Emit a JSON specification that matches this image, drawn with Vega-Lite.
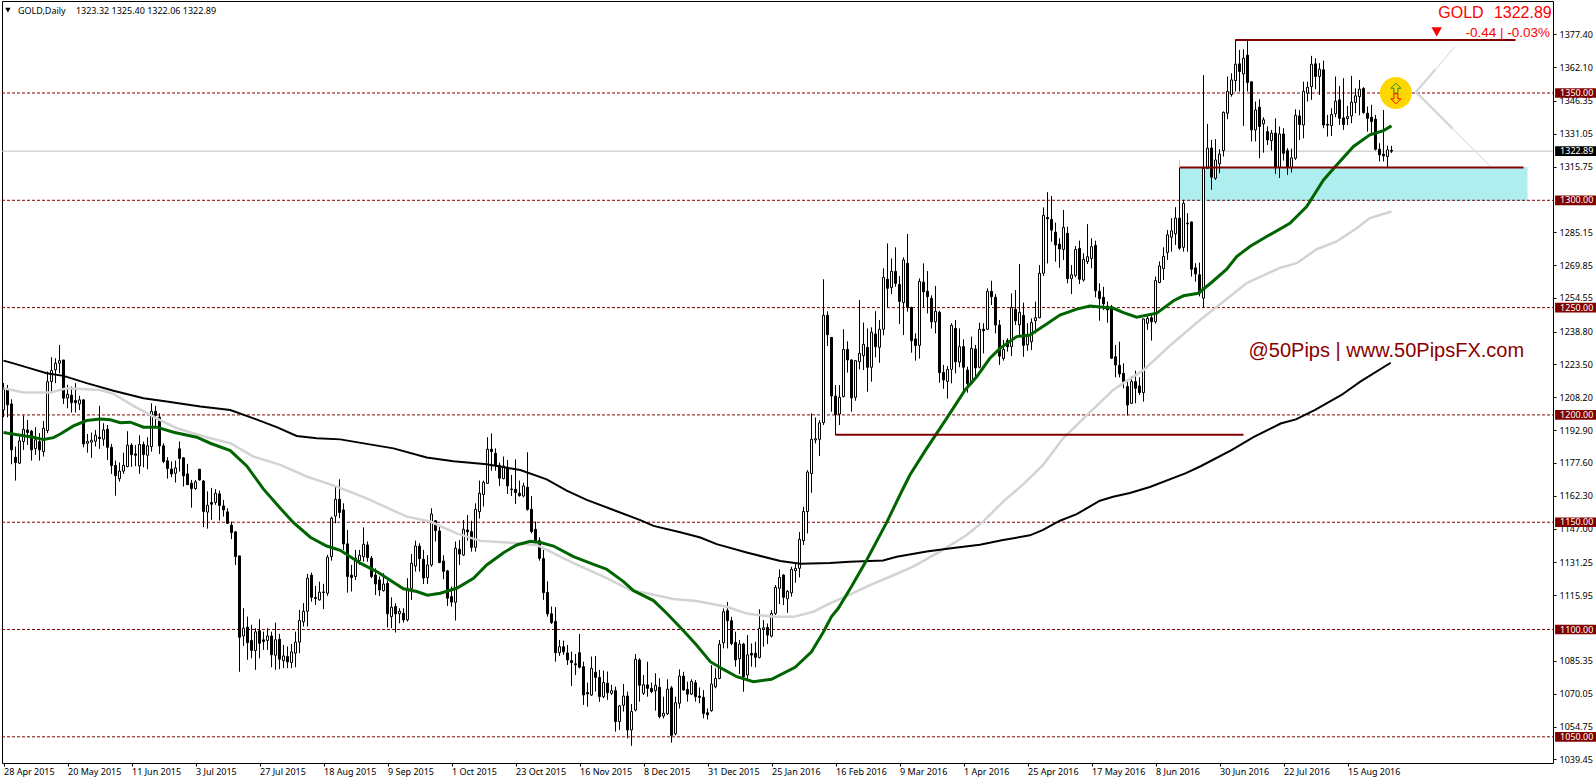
{"$schema":"https://vega.github.io/schema/vega-lite/v6.json","width":1551,"height":762,"autosize":"none","padding":{"left":2,"top":1,"right":43,"bottom":21},"background":"white",
"config":{"view":{"stroke":"black","strokeWidth":1},"axis":{"grid":false,"domain":false,"tickColor":"black","labelColor":"black","labelFont":"Noto Sans","labelFontSize":9,"tickSize":3,"title":null}},
"datasets":{
"candles":[
{"i":0,"o":1202.3,"h":1214.9,"l":1198.9,"c":1212},{"i":1,"o":1212,"h":1214,"l":1198.9,"c":1204.7},{"i":2,"o":1205.1,"h":1207.3,"l":1177,"c":1183.7},{"i":3,"o":1180.3,"h":1185.2,"l":1169.4,"c":1177.8},{"i":4,"o":1177.5,"h":1189.9,"l":1177.2,"c":1187.9},{"i":5,"o":1187.6,"h":1199.8,"l":1183.7,"c":1193.3},{"i":6,"o":1193,"h":1197.7,"l":1186,"c":1191.8},{"i":7,"o":1192.4,"h":1193,"l":1178.7,"c":1183.7},{"i":8,"o":1184.3,"h":1194.3,"l":1181.4,"c":1188.4},{"i":9,"o":1187.6,"h":1191.5,"l":1178.7,"c":1183.7},
{"i":10,"o":1182.9,"h":1197.2,"l":1180.6,"c":1193.8},{"i":11,"o":1192.7,"h":1220.2,"l":1191.5,"c":1215.5},{"i":12,"o":1215.5,"h":1226.9,"l":1210.1,"c":1220.7},{"i":13,"o":1221,"h":1226.4,"l":1214.8,"c":1224.1},{"i":14,"o":1224.1,"h":1232.6,"l":1219.4,"c":1225.3},{"i":15,"o":1225.6,"h":1225.6,"l":1205.1,"c":1207.8},{"i":16,"o":1207.8,"h":1214,"l":1203.1,"c":1209.6},{"i":17,"o":1209.2,"h":1213.2,"l":1201.1,"c":1205.7},{"i":18,"o":1206.7,"h":1214.8,"l":1201.1,"c":1205.7},{"i":19,"o":1205.1,"h":1208.9,"l":1202.3,"c":1207},
{"i":20,"o":1207,"h":1207.3,"l":1184.9,"c":1186.5},{"i":21,"o":1186.8,"h":1191.1,"l":1182.4,"c":1187.7},{"i":22,"o":1187.3,"h":1191.8,"l":1180,"c":1188.2},{"i":23,"o":1187.7,"h":1193,"l":1185.3,"c":1190.5},{"i":24,"o":1189.6,"h":1204.2,"l":1184.2,"c":1189},{"i":25,"o":1188.7,"h":1196.1,"l":1185.6,"c":1193},{"i":26,"o":1193.3,"h":1195.3,"l":1179,"c":1184.9},{"i":27,"o":1184.9,"h":1186.5,"l":1172.5,"c":1176.4},{"i":28,"o":1176.5,"h":1178.7,"l":1162.4,"c":1171.7},{"i":29,"o":1170.3,"h":1177.8,"l":1168.9,"c":1173.8},
{"i":30,"o":1173.8,"h":1182.4,"l":1172.5,"c":1176.5},{"i":31,"o":1175.9,"h":1192.4,"l":1175.6,"c":1185.9},{"i":32,"o":1185.9,"h":1186.8,"l":1175.8,"c":1181.5},{"i":33,"o":1181.8,"h":1185.9,"l":1176.2,"c":1181.2},{"i":34,"o":1176.2,"h":1190.5,"l":1172.5,"c":1186.2},{"i":35,"o":1186.2,"h":1187.6,"l":1175.6,"c":1181.5},{"i":36,"o":1181.2,"h":1189.6,"l":1174.7,"c":1185.6},{"i":37,"o":1185.2,"h":1205.4,"l":1182.9,"c":1201.7},{"i":38,"o":1201.7,"h":1204.2,"l":1194.6,"c":1199.8},{"i":39,"o":1198.9,"h":1200.8,"l":1181.8,"c":1185.6},
{"i":40,"o":1185.6,"h":1186.8,"l":1177.5,"c":1178.3},{"i":41,"o":1178.6,"h":1180.3,"l":1170.3,"c":1175},{"i":42,"o":1174.8,"h":1178.3,"l":1171,"c":1172.5},{"i":43,"o":1172.8,"h":1178.7,"l":1168.5,"c":1175.3},{"i":44,"o":1184.2,"h":1187.6,"l":1173.6,"c":1179.7},{"i":45,"o":1180,"h":1180.3,"l":1166.6,"c":1171.6},{"i":46,"o":1172.5,"h":1177.2,"l":1167.4,"c":1167.5},{"i":47,"o":1168.2,"h":1169.7,"l":1156.8,"c":1165.7},{"i":48,"o":1165.7,"h":1169.7,"l":1165.1,"c":1168.8},{"i":49,"o":1174.7,"h":1174.7,"l":1169.4,"c":1169.7},
{"i":50,"o":1169.2,"h":1169.7,"l":1147.7,"c":1155},{"i":51,"o":1154.7,"h":1164.4,"l":1147,"c":1157.9},{"i":52,"o":1159.2,"h":1166,"l":1151.1,"c":1158.4},{"i":53,"o":1159.2,"h":1165.4,"l":1158.1,"c":1163.5},{"i":54,"o":1163.2,"h":1164.7,"l":1150.8,"c":1157.8},{"i":55,"o":1157.6,"h":1160.4,"l":1152.6,"c":1155.7},{"i":56,"o":1154.8,"h":1156.5,"l":1149.2,"c":1149.5},{"i":57,"o":1148.6,"h":1150.3,"l":1142.1,"c":1145.2},{"i":58,"o":1145.5,"h":1145.9,"l":1130.1,"c":1134},{"i":59,"o":1134.3,"h":1134.3,"l":1080.3,"c":1096.4},
{"i":60,"o":1097,"h":1109.9,"l":1092.4,"c":1100.6},{"i":61,"o":1101.1,"h":1106,"l":1085.9,"c":1093.9},{"i":62,"o":1094.9,"h":1102.2,"l":1086.6,"c":1090.2},{"i":63,"o":1090.2,"h":1100.6,"l":1081.2,"c":1098.9},{"i":64,"o":1099.4,"h":1104.8,"l":1086.6,"c":1093.6},{"i":65,"o":1095.2,"h":1099,"l":1090.5,"c":1094.4},{"i":66,"o":1094.9,"h":1100.6,"l":1090.5,"c":1097},{"i":67,"o":1097,"h":1099,"l":1082.4,"c":1088.2},{"i":68,"o":1088,"h":1103.2,"l":1081.2,"c":1095.2},{"i":69,"o":1095.5,"h":1098,"l":1081.5,"c":1086.2},
{"i":70,"o":1085.5,"h":1092.8,"l":1082,"c":1087.7},{"i":71,"o":1087.4,"h":1092.1,"l":1082,"c":1084.9},{"i":72,"o":1084.6,"h":1093.3,"l":1082,"c":1089.6},{"i":73,"o":1089,"h":1099,"l":1082.4,"c":1094.1},{"i":74,"o":1094.1,"h":1109.1,"l":1089,"c":1104.2},{"i":75,"o":1103.6,"h":1112.3,"l":1101.4,"c":1108.5},{"i":76,"o":1108.5,"h":1125.9,"l":1101.4,"c":1123.9},{"i":77,"o":1125.3,"h":1126.5,"l":1113,"c":1115},{"i":78,"o":1114.9,"h":1120.3,"l":1111.5,"c":1114.4},{"i":79,"o":1113.8,"h":1122.3,"l":1113.5,"c":1117.4},
{"i":80,"o":1117.2,"h":1121.3,"l":1109.5,"c":1117.5},{"i":81,"o":1116.9,"h":1134.8,"l":1115.7,"c":1133.7},{"i":82,"o":1134,"h":1152.6,"l":1132.1,"c":1151.9},{"i":83,"o":1152.9,"h":1166.6,"l":1149.5,"c":1160.7},{"i":84,"o":1160.7,"h":1170,"l":1151.9,"c":1154.5},{"i":85,"o":1155.7,"h":1158.8,"l":1137.1,"c":1139.9},{"i":86,"o":1139.9,"h":1146.4,"l":1117.2,"c":1124.7},{"i":87,"o":1125.3,"h":1130.1,"l":1117.7,"c":1124.2},{"i":88,"o":1124.7,"h":1137.1,"l":1123.1,"c":1133.3},{"i":89,"o":1132.1,"h":1137.1,"l":1130.1,"c":1134.6},
{"i":90,"o":1134,"h":1147.6,"l":1131.6,"c":1139.7},{"i":91,"o":1139.4,"h":1141,"l":1131.6,"c":1133.5},{"i":92,"o":1133.2,"h":1134.3,"l":1123.9,"c":1124.7},{"i":93,"o":1125.4,"h":1128.5,"l":1116.1,"c":1121.2},{"i":94,"o":1123.1,"h":1124.7,"l":1115.6,"c":1118.4},{"i":95,"o":1118.1,"h":1126.2,"l":1117.7,"c":1121.2},{"i":96,"o":1121.5,"h":1122.8,"l":1101,"c":1107.3},{"i":97,"o":1106,"h":1115,"l":1100.6,"c":1110.4},{"i":98,"o":1110.7,"h":1112.2,"l":1098.6,"c":1107.3},{"i":99,"o":1107.4,"h":1109.9,"l":1102.9,"c":1108.5},
{"i":100,"o":1107.6,"h":1109.9,"l":1103.2,"c":1104.5},{"i":101,"o":1104.5,"h":1123.9,"l":1103.7,"c":1119.2},{"i":102,"o":1119.2,"h":1135.2,"l":1113.8,"c":1130.9},{"i":103,"o":1129.6,"h":1141.4,"l":1127,"c":1138.9},{"i":104,"o":1138.9,"h":1140.2,"l":1127,"c":1133},{"i":105,"o":1132.7,"h":1137.1,"l":1121.2,"c":1124},{"i":106,"o":1124.2,"h":1134.7,"l":1121.2,"c":1130.1},{"i":107,"o":1130.1,"h":1156.5,"l":1129.3,"c":1153.8},{"i":108,"o":1150.7,"h":1151,"l":1141,"c":1146.1},{"i":109,"o":1145.9,"h":1148.7,"l":1130.9,"c":1131.2},
{"i":110,"o":1131.9,"h":1134.6,"l":1123.4,"c":1127.1},{"i":111,"o":1127.3,"h":1127.8,"l":1111,"c":1114.6},{"i":112,"o":1115.3,"h":1120,"l":1110.7,"c":1112.8},{"i":113,"o":1112.7,"h":1141,"l":1104.2,"c":1137.9},{"i":114,"o":1137.4,"h":1141.7,"l":1130.1,"c":1135.2},{"i":115,"o":1134.7,"h":1151,"l":1134.3,"c":1146.7},{"i":116,"o":1146.4,"h":1153.4,"l":1141.4,"c":1145.5},{"i":117,"o":1145.6,"h":1150.7,"l":1136.3,"c":1138.3},{"i":118,"o":1138.3,"h":1158.8,"l":1136.3,"c":1156},{"i":119,"o":1154.9,"h":1169.4,"l":1151.7,"c":1163.5},
{"i":120,"o":1162.9,"h":1169.4,"l":1157.3,"c":1168.6},{"i":121,"o":1168.1,"h":1189.6,"l":1167.8,"c":1184},{"i":122,"o":1184,"h":1191.4,"l":1174,"c":1182.9},{"i":123,"o":1182.1,"h":1184.4,"l":1174,"c":1176.5},{"i":124,"o":1176.5,"h":1177.8,"l":1166.9,"c":1170.5},{"i":125,"o":1170.3,"h":1180.6,"l":1170,"c":1176.2},{"i":126,"o":1175.6,"h":1179,"l":1163.2,"c":1166.9},{"i":127,"o":1165.5,"h":1172,"l":1162.2,"c":1165.2},{"i":128,"o":1165.3,"h":1179.3,"l":1158.5,"c":1163.8},{"i":129,"o":1163.5,"h":1169.4,"l":1161.9,"c":1162.4},
{"i":130,"o":1162.2,"h":1168.4,"l":1161.6,"c":1166.9},{"i":131,"o":1166.3,"h":1182.6,"l":1155.4,"c":1156},{"i":132,"o":1156,"h":1162.2,"l":1144.8,"c":1145.6},{"i":133,"o":1146.7,"h":1150.3,"l":1140.2,"c":1141.4},{"i":134,"o":1141.4,"h":1143,"l":1132.1,"c":1133.2},{"i":135,"o":1133,"h":1137.1,"l":1113.8,"c":1117.2},{"i":136,"o":1117.3,"h":1122.5,"l":1106,"c":1107.3},{"i":137,"o":1107.3,"h":1110.7,"l":1102.6,"c":1103.2},{"i":138,"o":1103.8,"h":1110.4,"l":1085,"c":1089.2},{"i":139,"o":1089.2,"h":1095.1,"l":1087.7,"c":1092},
{"i":140,"o":1092,"h":1094.8,"l":1088.2,"c":1089.6},{"i":141,"o":1089.1,"h":1092.8,"l":1083.5,"c":1085.8},{"i":142,"o":1085.5,"h":1089.7,"l":1073.7,"c":1084.6},{"i":143,"o":1084,"h":1088.6,"l":1078.8,"c":1083.6},{"i":144,"o":1089.2,"h":1097.9,"l":1081.9,"c":1082.4},{"i":145,"o":1082.7,"h":1085,"l":1064.9,"c":1069.5},{"i":146,"o":1070.6,"h":1075.3,"l":1064.1,"c":1070},{"i":147,"o":1069.5,"h":1087.4,"l":1069,"c":1081.9},{"i":148,"o":1080.1,"h":1087.7,"l":1071.1,"c":1077.7},{"i":149,"o":1077.7,"h":1081.2,"l":1066.3,"c":1068.7},
{"i":150,"o":1068.7,"h":1080.9,"l":1068,"c":1075.3},{"i":151,"o":1075,"h":1080.4,"l":1067.2,"c":1070.6},{"i":152,"o":1070.3,"h":1074.2,"l":1069.5,"c":1071.5},{"i":153,"o":1071.5,"h":1073.4,"l":1052.4,"c":1057.1},{"i":154,"o":1057.1,"h":1064.9,"l":1053.2,"c":1064.4},{"i":155,"o":1064.7,"h":1074.6,"l":1061.8,"c":1069},{"i":156,"o":1069,"h":1071.1,"l":1049.3,"c":1053.2},{"i":157,"o":1053.2,"h":1065.3,"l":1045.8,"c":1061.8},{"i":158,"o":1062.5,"h":1088.6,"l":1061.8,"c":1086.1},{"i":159,"o":1085.8,"h":1086.6,"l":1066.4,"c":1074},
{"i":160,"o":1070.3,"h":1078.8,"l":1069.5,"c":1074.3},{"i":161,"o":1074.2,"h":1085,"l":1068.7,"c":1072.6},{"i":162,"o":1072.6,"h":1075.3,"l":1070.3,"c":1071.1},{"i":163,"o":1071.5,"h":1079.6,"l":1062.2,"c":1074},{"i":164,"o":1073.1,"h":1077.3,"l":1058.6,"c":1059.4},{"i":165,"o":1059.7,"h":1068.7,"l":1058.6,"c":1061},{"i":166,"o":1060.7,"h":1076.8,"l":1060.2,"c":1072.2},{"i":167,"o":1072.8,"h":1073.7,"l":1047.3,"c":1050.7},{"i":168,"o":1051.4,"h":1068.7,"l":1050.7,"c":1065.9},{"i":169,"o":1065.6,"h":1081.4,"l":1063.2,"c":1078.3},
{"i":170,"o":1078.3,"h":1080.3,"l":1071.5,"c":1071.8},{"i":171,"o":1072.1,"h":1075.7,"l":1066.4,"c":1069.9},{"i":172,"o":1069.9,"h":1076.8,"l":1069.5,"c":1075.8},{"i":173,"o":1075.2,"h":1076.4,"l":1066.4,"c":1068.7},{"i":174,"o":1069,"h":1073,"l":1065.6,"c":1068.4},{"i":175,"o":1068.4,"h":1071.8,"l":1058.6,"c":1060.9},{"i":176,"o":1061.2,"h":1063.2,"l":1058.1,"c":1060.3},{"i":177,"o":1062.2,"h":1083.4,"l":1061.7,"c":1074.6},{"i":178,"o":1073.3,"h":1081.9,"l":1072.6,"c":1077.2},{"i":179,"o":1077.2,"h":1095.1,"l":1076.8,"c":1093.1},
{"i":180,"o":1093.8,"h":1109.8,"l":1091.2,"c":1108.3},{"i":181,"o":1108.8,"h":1112.8,"l":1091.2,"c":1104.1},{"i":182,"o":1104.1,"h":1105.9,"l":1092.7,"c":1093.5},{"i":183,"o":1094,"h":1099,"l":1082.7,"c":1085.8},{"i":184,"o":1086.4,"h":1095.1,"l":1079.2,"c":1093.2},{"i":185,"o":1093.2,"h":1093.8,"l":1071,"c":1078},{"i":186,"o":1078.8,"h":1097.4,"l":1076.8,"c":1088.2},{"i":187,"o":1088.9,"h":1093.5,"l":1082.7,"c":1088.1},{"i":188,"o":1088.9,"h":1094.3,"l":1082.4,"c":1087},{"i":189,"o":1087,"h":1109.4,"l":1086.5,"c":1100.5},
{"i":190,"o":1100,"h":1104.4,"l":1092,"c":1100.8},{"i":191,"o":1101,"h":1102.8,"l":1093.2,"c":1097.4},{"i":192,"o":1096.9,"h":1109,"l":1096.3,"c":1107.5},{"i":193,"o":1107.5,"h":1120.7,"l":1106.7,"c":1119.6},{"i":194,"o":1119.2,"h":1128,"l":1111.9,"c":1124.3},{"i":195,"o":1125.4,"h":1125.8,"l":1111.4,"c":1115},{"i":196,"o":1114.3,"h":1118.4,"l":1107.8,"c":1117.8},{"i":197,"o":1117.1,"h":1129.2,"l":1115.3,"c":1128},{"i":198,"o":1127.4,"h":1130.8,"l":1121.8,"c":1128.5},{"i":199,"o":1128.5,"h":1145.4,"l":1124.3,"c":1142},
{"i":200,"o":1141.4,"h":1157.2,"l":1139.4,"c":1155},{"i":201,"o":1155,"h":1174.3,"l":1144.8,"c":1173.4},{"i":202,"o":1172.7,"h":1200.7,"l":1163.7,"c":1188.6},{"i":203,"o":1188.3,"h":1198.8,"l":1186.7,"c":1188.9},{"i":204,"o":1188.6,"h":1197.6,"l":1180.8,"c":1196.3},{"i":205,"o":1196.4,"h":1263.2,"l":1195.3,"c":1246.4},{"i":206,"o":1246.4,"h":1248.3,"l":1232.1,"c":1237.4},{"i":207,"o":1236.1,"h":1236.1,"l":1201.5,"c":1208.8},{"i":208,"o":1208.8,"h":1213.9,"l":1190.6,"c":1200.1},{"i":209,"o":1200.4,"h":1213.9,"l":1195.3,"c":1208.2},
{"i":210,"o":1208.5,"h":1239.9,"l":1208.2,"c":1230.5},{"i":211,"o":1230.5,"h":1234.3,"l":1219.7,"c":1225.6},{"i":212,"o":1225.6,"h":1225.9,"l":1201.5,"c":1207.9},{"i":213,"o":1208.2,"h":1225.6,"l":1206.6,"c":1225.3},{"i":214,"o":1224.8,"h":1253.5,"l":1221.2,"c":1228.7},{"i":215,"o":1227.6,"h":1243,"l":1220.9,"c":1232.9},{"i":216,"o":1231.5,"h":1240.3,"l":1210.8,"c":1222.2},{"i":217,"o":1222.2,"h":1240.8,"l":1215.5,"c":1238.5},{"i":218,"o":1237.7,"h":1248.3,"l":1226.8,"c":1231.8},{"i":219,"o":1231.5,"h":1244.2,"l":1224.3,"c":1239.9},
{"i":220,"o":1239.9,"h":1268.3,"l":1237.1,"c":1264.1},{"i":221,"o":1263.2,"h":1279.9,"l":1250.1,"c":1259},{"i":222,"o":1259.4,"h":1272.9,"l":1256.3,"c":1266.9},{"i":223,"o":1266.9,"h":1278.1,"l":1259.7,"c":1261.3},{"i":224,"o":1260.8,"h":1264.7,"l":1242.4,"c":1252.9},{"i":225,"o":1252.3,"h":1273.4,"l":1237.2,"c":1272.2},{"i":226,"o":1270.6,"h":1284.3,"l":1248.1,"c":1250.1},{"i":227,"o":1250.1,"h":1250.4,"l":1229,"c":1234.6},{"i":228,"o":1235.4,"h":1238,"l":1225.3,"c":1232.3},{"i":229,"o":1232.4,"h":1263.6,"l":1226.2,"c":1262.2},
{"i":230,"o":1261.9,"h":1270.6,"l":1250.1,"c":1257.4},{"i":231,"o":1257.6,"h":1267,"l":1247.3,"c":1255.1},{"i":232,"o":1254.3,"h":1255.7,"l":1240.2,"c":1243.4},{"i":233,"o":1243.4,"h":1260.1,"l":1238,"c":1248.3},{"i":234,"o":1247.8,"h":1248.6,"l":1215,"c":1219.7},{"i":235,"o":1219.8,"h":1223.3,"l":1212.2,"c":1216.3},{"i":236,"o":1215.6,"h":1222.8,"l":1207.6,"c":1221.2},{"i":237,"o":1221.2,"h":1242.7,"l":1214.7,"c":1241.7},{"i":238,"o":1240.3,"h":1244.2,"l":1219.4,"c":1224.8},{"i":239,"o":1224.6,"h":1240.3,"l":1222.2,"c":1231.8},
{"i":240,"o":1231.8,"h":1235.2,"l":1210.8,"c":1222.2},{"i":241,"o":1220.9,"h":1222.5,"l":1210.4,"c":1214.7},{"i":242,"o":1214.7,"h":1236.5,"l":1213.9,"c":1231},{"i":243,"o":1230.7,"h":1232.6,"l":1217.5,"c":1221.9},{"i":244,"o":1222.2,"h":1243,"l":1221.7,"c":1239.9},{"i":245,"o":1239.9,"h":1242.7,"l":1228.7,"c":1239.2},{"i":246,"o":1239.9,"h":1259,"l":1239.6,"c":1257.6},{"i":247,"o":1257.6,"h":1262.5,"l":1251.2,"c":1255.1},{"i":248,"o":1254.8,"h":1256.3,"l":1238,"c":1241.9},{"i":249,"o":1241.9,"h":1244.2,"l":1223.3,"c":1227.4},
{"i":250,"o":1226.3,"h":1234.9,"l":1225.3,"c":1230.5},{"i":251,"o":1234.6,"h":1235.7,"l":1229.5,"c":1231.8},{"i":252,"o":1231.8,"h":1256.6,"l":1227.4,"c":1250.1},{"i":253,"o":1249.2,"h":1258.2,"l":1241.9,"c":1243.9},{"i":254,"o":1242,"h":1270.3,"l":1237.2,"c":1247.8},{"i":255,"o":1246.4,"h":1252.3,"l":1227.1,"c":1232.4},{"i":256,"o":1232.7,"h":1242.7,"l":1229.9,"c":1236.8},{"i":257,"o":1234.1,"h":1245,"l":1230.2,"c":1243},{"i":258,"o":1243.9,"h":1252.8,"l":1238,"c":1245.3},{"i":259,"o":1245.3,"h":1269.8,"l":1245,"c":1266},
{"i":260,"o":1266,"h":1296.7,"l":1264.7,"c":1293},{"i":261,"o":1292,"h":1303.8,"l":1270.6,"c":1291.4},{"i":262,"o":1291.1,"h":1302,"l":1280.7,"c":1286.1},{"i":263,"o":1285.2,"h":1289.6,"l":1271.4,"c":1279.2},{"i":264,"o":1279.6,"h":1282.3,"l":1268.6,"c":1277.3},{"i":265,"o":1277.1,"h":1295.5,"l":1272.2,"c":1287.4},{"i":266,"o":1284.6,"h":1287.7,"l":1261.3,"c":1263.5},{"i":267,"o":1263.5,"h":1269.8,"l":1256.3,"c":1265.3},{"i":268,"o":1265,"h":1278.7,"l":1264.1,"c":1277.1},{"i":269,"o":1277.6,"h":1281.2,"l":1261,"c":1263.2},
{"i":270,"o":1262.9,"h":1275.3,"l":1262.1,"c":1272.5},{"i":271,"o":1271.4,"h":1288.9,"l":1270.3,"c":1273.7},{"i":272,"o":1272.9,"h":1282.3,"l":1268.3,"c":1278.4},{"i":273,"o":1279,"h":1281.2,"l":1254.8,"c":1257.9},{"i":274,"o":1257.6,"h":1261.3,"l":1243.9,"c":1254.2},{"i":275,"o":1254.8,"h":1259.7,"l":1248.9,"c":1251.7},{"i":276,"o":1250.7,"h":1252.8,"l":1243,"c":1248.9},{"i":277,"o":1250.4,"h":1251.2,"l":1226.1,"c":1226.4},{"i":278,"o":1227.1,"h":1232.6,"l":1217.5,"c":1223.3},{"i":279,"o":1223.1,"h":1234.1,"l":1217.5,"c":1219.1},
{"i":280,"o":1219.4,"h":1224,"l":1212.4,"c":1215.5},{"i":281,"o":1213.2,"h":1216.3,"l":1199.8,"c":1204.6},{"i":282,"o":1205.4,"h":1218.1,"l":1205.1,"c":1215.5},{"i":283,"o":1215.5,"h":1220.6,"l":1205.4,"c":1212.4},{"i":284,"o":1213.5,"h":1217.5,"l":1209.3,"c":1210.4},{"i":285,"o":1210.4,"h":1245,"l":1206.2,"c":1244.7},{"i":286,"o":1242.7,"h":1246.1,"l":1239.6,"c":1245},{"i":287,"o":1245.3,"h":1247.3,"l":1234.6,"c":1243.4},{"i":288,"o":1243.4,"h":1264.5,"l":1242.6,"c":1262.6},{"i":289,"o":1261.7,"h":1271.5,"l":1261.4,"c":1269.4},
{"i":290,"o":1268.2,"h":1278.1,"l":1262.9,"c":1273.8},{"i":291,"o":1275.7,"h":1286.2,"l":1272.2,"c":1283.9},{"i":292,"o":1282.8,"h":1291.7,"l":1276.1,"c":1285.8},{"i":293,"o":1284.4,"h":1296.8,"l":1279.2,"c":1291.7},{"i":294,"o":1291.7,"h":1315.3,"l":1276.9,"c":1277.7},{"i":295,"o":1278.1,"h":1300.2,"l":1276.1,"c":1298.6},{"i":296,"o":1289.3,"h":1294,"l":1276.1,"c":1289},{"i":297,"o":1289.9,"h":1290.1,"l":1264.5,"c":1267.9},{"i":298,"o":1268.5,"h":1270.7,"l":1262.1,"c":1265.7},{"i":299,"o":1265.3,"h":1271,"l":1255.2,"c":1256.7},
{"i":300,"o":1254.4,"h":1358.3,"l":1250.2,"c":1314.9},{"i":301,"o":1314.9,"h":1335.6,"l":1314.8,"c":1324.3},{"i":302,"o":1324.4,"h":1328.1,"l":1304.9,"c":1310.8},{"i":303,"o":1310.3,"h":1328.5,"l":1309.5,"c":1318.8},{"i":304,"o":1317,"h":1323.8,"l":1312.6,"c":1321.5},{"i":305,"o":1323.2,"h":1341.4,"l":1320.4,"c":1341},{"i":306,"o":1340.6,"h":1357.7,"l":1337.8,"c":1350.8},{"i":307,"o":1349.3,"h":1359.2,"l":1348.3,"c":1356.1},{"i":308,"o":1355.8,"h":1375,"l":1350.7,"c":1363.4},{"i":309,"o":1363.6,"h":1370.1,"l":1350.7,"c":1360},
{"i":310,"o":1358.9,"h":1370.4,"l":1334.7,"c":1366.2},{"i":311,"o":1367.6,"h":1374.7,"l":1350.7,"c":1354.9},{"i":312,"o":1355.2,"h":1355.3,"l":1327.4,"c":1332.8},{"i":313,"o":1332.8,"h":1346,"l":1327.4,"c":1342.1},{"i":314,"o":1343.4,"h":1347.1,"l":1319.6,"c":1334.4},{"i":315,"o":1335.6,"h":1338.7,"l":1322.2,"c":1337.5},{"i":316,"o":1332,"h":1334.4,"l":1325.8,"c":1328.1},{"i":317,"o":1327.8,"h":1332.8,"l":1323.2,"c":1331.3},{"i":318,"o":1331.3,"h":1338.2,"l":1312.3,"c":1315.4},{"i":319,"o":1315.4,"h":1334.4,"l":1310.4,"c":1330.9},
{"i":320,"o":1330.9,"h":1333.6,"l":1318.5,"c":1321.9},{"i":321,"o":1323.2,"h":1324.3,"l":1311.8,"c":1315.4},{"i":322,"o":1315.4,"h":1324.1,"l":1312.9,"c":1319.8},{"i":323,"o":1319.6,"h":1342.4,"l":1318.8,"c":1339.6},{"i":324,"o":1339.3,"h":1342.1,"l":1328.1,"c":1335.3},{"i":325,"o":1335.1,"h":1355.3,"l":1328.9,"c":1350.8},{"i":326,"o":1349.9,"h":1355.3,"l":1346,"c":1352.7},{"i":327,"o":1353,"h":1367.3,"l":1346.8,"c":1363.4},{"i":328,"o":1363.6,"h":1366.2,"l":1351.8,"c":1357.7},{"i":329,"o":1357.7,"h":1363.9,"l":1349.1,"c":1361.1},
{"i":330,"o":1360.8,"h":1365.1,"l":1333.6,"c":1335.1},{"i":331,"o":1335.4,"h":1339.8,"l":1329.7,"c":1335},{"i":332,"o":1334.8,"h":1342.9,"l":1330,"c":1340},{"i":333,"o":1340.3,"h":1357.7,"l":1338.7,"c":1346.2},{"i":334,"o":1346.8,"h":1353.3,"l":1335.1,"c":1338.2},{"i":335,"o":1338.4,"h":1356.9,"l":1332.8,"c":1335.3},{"i":336,"o":1338.1,"h":1344,"l":1335.1,"c":1339},{"i":337,"o":1339.3,"h":1358,"l":1335.9,"c":1345.7},{"i":338,"o":1345.6,"h":1352.2,"l":1340.6,"c":1348.7},{"i":339,"o":1348.3,"h":1356.1,"l":1339.6,"c":1351.8},
{"i":340,"o":1352.1,"h":1352.7,"l":1340.3,"c":1340.9},{"i":341,"o":1340.6,"h":1343.7,"l":1332,"c":1338.2},{"i":342,"o":1338.7,"h":1344.5,"l":1331.3,"c":1336.7},{"i":343,"o":1337.8,"h":1339.8,"l":1323.2,"c":1323.8},{"i":344,"o":1323.8,"h":1326.6,"l":1318.1,"c":1321.2},{"i":345,"o":1321.5,"h":1342.1,"l":1318.1,"c":1320.7},{"i":346,"o":1320.4,"h":1325.4,"l":1315.4,"c":1323.5},{"i":347,"o":1323.32,"h":1325.4,"l":1322.06,"c":1322.89}
],
"green":[{"i":0,"p":1191.8},{"i":4.2,"p":1190.5},{"i":7.5,"p":1189.6},{"i":10,"p":1188.5},{"i":12.5,"p":1189.4},{"i":14.2,"p":1191.1},{"i":17.5,"p":1194.9},{"i":20.8,"p":1197.4},{"i":24.2,"p":1198.1},{"i":26.7,"p":1197.7},{"i":29.2,"p":1196.4},{"i":31.7,"p":1196.6},{"i":35,"p":1194.3},{"i":38.3,"p":1194.3},{"i":42.5,"p":1191.9},{"i":48.3,"p":1189.6},{"i":51.7,"p":1186.8},{"i":56.7,"p":1183.4},{"i":60.8,"p":1176.2},{"i":65,"p":1165.4},{"i":69.2,"p":1156.5},{"i":72.5,"p":1149.8},{"i":76.7,"p":1143},{"i":80.8,"p":1138.9},{"i":84.2,"p":1136.9},{"i":89.2,"p":1130.9},{"i":93.3,"p":1127},{"i":100,"p":1119},{"i":103.3,"p":1117.7},{"i":106,"p":1116},{"i":109.2,"p":1116.9},{"i":113.3,"p":1119.2},{"i":117.5,"p":1123.9},{"i":120.8,"p":1130.1},{"i":125,"p":1135.8},{"i":128.3,"p":1139.4},{"i":131.7,"p":1141.1},{"i":134.2,"p":1140.5},{"i":137.5,"p":1138.9},{"i":142.5,"p":1134},{"i":147.5,"p":1130.4},{"i":150.8,"p":1128.1},{"i":155,"p":1122.3},{"i":157.5,"p":1118.1},{"i":162.5,"p":1113.5},{"i":165.8,"p":1107.6},{"i":170,"p":1099.4},{"i":173.3,"p":1092.7},{"i":176.7,"p":1085},{"i":180,"p":1081.4},{"i":183.3,"p":1078},{"i":187.5,"p":1075.7},{"i":192,"p":1076.8},{"i":197.9,"p":1082.4},{"i":202,"p":1089.6},{"i":205,"p":1099},{"i":207,"p":1106},{"i":208.7,"p":1109.9},{"i":212,"p":1120},{"i":215.8,"p":1132.4},{"i":220.8,"p":1149.9},{"i":224.5,"p":1164.2},{"i":226.6,"p":1172},{"i":230.8,"p":1184.4},{"i":233.3,"p":1191.4},{"i":236.6,"p":1200.7},{"i":240.4,"p":1211.6},{"i":243.3,"p":1217.8},{"i":246.6,"p":1226.4},{"i":249.1,"p":1231},{"i":253.3,"p":1236.5},{"i":256.6,"p":1237.2},{"i":260.8,"p":1242.4},{"i":264.1,"p":1246.5},{"i":268.3,"p":1249.3},{"i":271.6,"p":1250.7},{"i":277.5,"p":1249.7},{"i":280,"p":1247.7},{"i":283.3,"p":1245.5},{"i":288.3,"p":1247.4},{"i":292.6,"p":1253.3},{"i":295,"p":1255.5},{"i":298.7,"p":1256.7},{"i":302,"p":1261.7},{"i":305.8,"p":1267.9},{"i":308.3,"p":1273.8},{"i":311.6,"p":1278.5},{"i":315.8,"p":1283.1},{"i":321.6,"p":1289.3},{"i":325.8,"p":1297.1},{"i":330,"p":1309.5},{"i":333.3,"p":1316.5},{"i":337.5,"p":1325.1},{"i":341.6,"p":1330.5},{"i":345,"p":1332.5},{"i":347,"p":1334.7}],
"gray":[{"i":0,"p":1212.4},{"i":5,"p":1210.4},{"i":11.7,"p":1210.4},{"i":15.8,"p":1212.4},{"i":24.2,"p":1211.6},{"i":27.5,"p":1209.8},{"i":32.5,"p":1204.2},{"i":38.3,"p":1198.4},{"i":43.3,"p":1193.8},{"i":50.8,"p":1189.6},{"i":56.7,"p":1186.8},{"i":62.5,"p":1180.6},{"i":69.2,"p":1176.7},{"i":75.8,"p":1171.3},{"i":83.3,"p":1166.6},{"i":90.8,"p":1161.1},{"i":100.8,"p":1152.6},{"i":106.7,"p":1150.3},{"i":113.3,"p":1144.8},{"i":119.2,"p":1141.3},{"i":125.8,"p":1140.6},{"i":133.3,"p":1139.4},{"i":142.5,"p":1130.9},{"i":150.8,"p":1123.9},{"i":156.7,"p":1118.4},{"i":160.8,"p":1116.9},{"i":167.5,"p":1114.2},{"i":173.3,"p":1113.3},{"i":180.8,"p":1110.6},{"i":185.8,"p":1107.5},{"i":192.5,"p":1105.9},{"i":197.5,"p":1105.9},{"i":202.5,"p":1108.3},{"i":206.6,"p":1112.2},{"i":210.8,"p":1115.6},{"i":216.6,"p":1120.7},{"i":221.6,"p":1124.6},{"i":227.4,"p":1129.3},{"i":234.1,"p":1136.3},{"i":240.8,"p":1144},{"i":244.9,"p":1150.3},{"i":249.9,"p":1159.6},{"i":254.9,"p":1167.6},{"i":259.9,"p":1176.7},{"i":264.9,"p":1189.1},{"i":270.8,"p":1199.8},{"i":277.4,"p":1211.6},{"i":285.2,"p":1221.2},{"i":291.8,"p":1232.6},{"i":299.2,"p":1244.3},{"i":304,"p":1251.3},{"i":310.8,"p":1261.4},{"i":314,"p":1264.2},{"i":319.1,"p":1268.5},{"i":323.3,"p":1270.7},{"i":328.3,"p":1277.2},{"i":333.3,"p":1280.8},{"i":338.3,"p":1287},{"i":341.6,"p":1291.7},{"i":347,"p":1294.8}],
"black":[{"i":0,"p":1225.3},{"i":2.5,"p":1224},{"i":6.7,"p":1221.7},{"i":10.8,"p":1219.4},{"i":15,"p":1218.2},{"i":20.8,"p":1214.8},{"i":27.5,"p":1211.3},{"i":35,"p":1207.8},{"i":40.8,"p":1206.2},{"i":49.2,"p":1203.9},{"i":56.7,"p":1202.3},{"i":62.5,"p":1198.4},{"i":68.3,"p":1194.3},{"i":73.3,"p":1190.2},{"i":78.3,"p":1189.1},{"i":84.2,"p":1188.6},{"i":90.8,"p":1186.5},{"i":97.5,"p":1184.4},{"i":105.8,"p":1180.2},{"i":112.5,"p":1178.4},{"i":120.8,"p":1177},{"i":129.2,"p":1174.3},{"i":135.8,"p":1170},{"i":140.8,"p":1164.7},{"i":145.8,"p":1160.4},{"i":152.5,"p":1155.7},{"i":159.2,"p":1151},{"i":162.5,"p":1148.3},{"i":169.2,"p":1145.3},{"i":174.2,"p":1142.9},{"i":178.3,"p":1139.8},{"i":185.8,"p":1135.9},{"i":194.2,"p":1131.9},{"i":199.2,"p":1130.6},{"i":206.6,"p":1131},{"i":211.6,"p":1131.6},{"i":219.9,"p":1132.2},{"i":223.3,"p":1133.9},{"i":230.8,"p":1136.4},{"i":237.4,"p":1138},{"i":244.1,"p":1139.5},{"i":249.9,"p":1141.7},{"i":256.6,"p":1143.9},{"i":259.9,"p":1146.4},{"i":264.1,"p":1150.7},{"i":268.3,"p":1153.8},{"i":274.1,"p":1160},{"i":277.4,"p":1161.9},{"i":281.6,"p":1163.6},{"i":286.6,"p":1166.4},{"i":295.6,"p":1172.9},{"i":299.4,"p":1176.2},{"i":307,"p":1183.6},{"i":312.6,"p":1189.8},{"i":319.3,"p":1196},{"i":323.1,"p":1197.9},{"i":327.9,"p":1202.3},{"i":334.5,"p":1209.3},{"i":339.2,"p":1215.5},{"i":346.8,"p":1224.3}],
"levels":[{"p":1350},{"p":1300},{"p":1250},{"p":1200},{"p":1150},{"p":1100},{"p":1050}],
"boxes":[{"i":387.9,"i2":398.2,"p":1352.25,"p2":1347.75,"q":1350,"t":"1350.00"},{"i":387.9,"i2":398.2,"p":1302.25,"p2":1297.75,"q":1300,"t":"1300.00"},{"i":387.9,"i2":398.2,"p":1252.25,"p2":1247.75,"q":1250,"t":"1250.00"},{"i":387.9,"i2":398.2,"p":1202.25,"p2":1197.75,"q":1200,"t":"1200.00"},{"i":387.9,"i2":398.2,"p":1152.25,"p2":1147.75,"q":1150,"t":"1150.00"},{"i":387.9,"i2":398.2,"p":1102.25,"p2":1097.75,"q":1100,"t":"1100.00"},{"i":387.9,"i2":398.2,"p":1052.25,"p2":1047.75,"q":1050,"t":"1050.00"}],
"lastbox":[{"i":387.9,"i2":398.2,"p":1325.14,"p2":1320.64,"q":1322.89,"t":"1322.89"}],
"trend":[{"i":308,"i2":378,"p":1374.7},{"i":294,"i2":380,"p":1315.3},{"i":208,"i2":310,"p":1190.7}]
},
"data":{"name":"candles"},
"encoding":{"x":{"field":"i","type":"quantitative","title":null,"scale":{"domain":[-0.375,387.375],"nice":false,"zero":false,"padding":0},"axis":{"values":[0,16,32,48,64,80,96,112,128,144,160,176,192,208,224,240,256,272,288,304,320,336],"labelExpr":"['28 Apr 2015','20 May 2015','11 Jun 2015','3 Jul 2015','27 Jul 2015','18 Aug 2015','9 Sep 2015','1 Oct 2015','23 Oct 2015','16 Nov 2015','8 Dec 2015','31 Dec 2015','25 Jan 2016','16 Feb 2016','9 Mar 2016','1 Apr 2016','25 Apr 2016','17 May 2016','8 Jun 2016','30 Jun 2016','22 Jul 2016','15 Aug 2016'][datum.value/16]","labelAlign":"left","labelOverlap":false,"labelFlush":false,"labelBound":false,"labelPadding":1}},
"y":{"field":"p","type":"quantitative","title":null,"scale":{"domain":[1037.8,1392.87],"nice":false,"zero":false},"axis":{"orient":"right","values":[1377.4,1362.1,1346.35,1331.05,1315.75,1285.15,1269.85,1254.55,1238.8,1223.5,1208.2,1192.9,1177.6,1162.3,1147,1131.25,1115.95,1085.35,1070.05,1054.75,1039.45],"format":".2f","labelOverlap":false,"labelFlush":false,"labelBound":false,"labelPadding":3}}},
"layer":[
{"data":{"values":[{"i":294,"i2":381,"p":1315.5,"p2":1299.7}]},"mark":{"type":"rect","fill":"#AFEEEE"},"encoding":{"x2":{"field":"i2"},"y2":{"field":"p2"}}},
{"data":{"values":[{"p":1322.89}]},"mark":{"type":"rule","stroke":"#C0C0C0","strokeWidth":1},"encoding":{"x":{"value":0},"x2":{"value":1551}}},
{"data":{"name":"levels"},"mark":{"type":"rule","stroke":"#800000","strokeWidth":1,"strokeDash":[3,2]},"encoding":{"x":{"value":0},"x2":{"value":1551}}},
{"mark":{"type":"rule","stroke":"black","strokeWidth":1},"encoding":{"y":{"field":"h","type":"quantitative","title":null,"scale":{"domain":[1037.8,1392.87],"nice":false,"zero":false}},"y2":{"field":"l"}}},
{"mark":{"type":"bar","width":2,"stroke":"black","strokeWidth":1},"encoding":{"y":{"field":"o","type":"quantitative","title":null,"scale":{"domain":[1037.8,1392.87],"nice":false,"zero":false}},"y2":{"field":"c"},"fill":{"condition":{"test":"datum.c>=datum.o","value":"white"},"value":"black"}}},
{"data":{"name":"gray"},"mark":{"type":"line","stroke":"#D3D3D3","strokeWidth":2.5}},
{"data":{"name":"black"},"mark":{"type":"line","stroke":"black","strokeWidth":2}},
{"data":{"name":"green"},"mark":{"type":"line","stroke":"#006400","strokeWidth":3}},
{"data":{"name":"trend"},"mark":{"type":"rule","stroke":"#800000","strokeWidth":2},"encoding":{"x2":{"field":"i2"}}},
{"data":{"values":[{"i":294,"p":1315.3,"p2":1319}]},"mark":{"type":"rule","stroke":"#FFD700","strokeWidth":1},"encoding":{"y2":{"field":"p2"}}},
{"data":{"values":[{"i":353.1,"i2":358,"p":1350.5,"p2":1361},{"i":353.1,"i2":362.3,"p":1350.5,"p2":1333.3}]},"mark":{"type":"rule","stroke":"#D3D3D3","strokeWidth":2.2},"encoding":{"x2":{"field":"i2"},"y2":{"field":"p2"}}},
{"data":{"values":[{"i":358,"i2":362.9,"p":1361,"p2":1371.6},{"i":362.3,"i2":371.6,"p":1333.3,"p2":1316.1}]},"mark":{"type":"rule","stroke":"#D3D3D3","strokeWidth":1},"encoding":{"x2":{"field":"i2"},"y2":{"field":"p2"}}},
{"data":{"values":[{"i":348.1,"p":1350}]},"mark":{"type":"point","shape":"circle","filled":true,"fill":"#FFD700","opacity":1,"size":1024}},
{"data":{"values":[{"i":348.1,"p":1352.2}]},"mark":{"type":"point","shape":"M0,-1L1,0L0.4,0L0.4,1L-0.4,1L-0.4,0L-1,0Z","filled":false,"stroke":"#228B22","strokeWidth":1,"opacity":1,"size":100}},
{"data":{"values":[{"i":348.1,"p":1347.3}]},"mark":{"type":"point","shape":"M0,1L1,0L0.4,0L0.4,-1L-0.4,-1L-0.4,0L-1,0Z","filled":false,"stroke":"#FF0000","strokeWidth":1,"opacity":1,"size":100}},
{"data":{"name":"boxes"},"mark":{"type":"rect","fill":"#800000"},"encoding":{"x2":{"field":"i2"},"y2":{"field":"p2"}}},
{"data":{"name":"lastbox"},"mark":{"type":"rect","fill":"black"},"encoding":{"x2":{"field":"i2"},"y2":{"field":"p2"}}},
{"data":{"name":"boxes"},"mark":{"type":"text","align":"left","baseline":"middle","color":"white","font":"Noto Sans","fontSize":9,"dx":5},"encoding":{"y":{"field":"q","type":"quantitative","title":null,"scale":{"domain":[1037.8,1392.87],"nice":false,"zero":false}},"text":{"field":"t"}}},
{"data":{"name":"lastbox"},"mark":{"type":"text","align":"left","baseline":"middle","color":"white","font":"Noto Sans","fontSize":9,"dx":5},"encoding":{"y":{"field":"q","type":"quantitative","title":null,"scale":{"domain":[1037.8,1392.87],"nice":false,"zero":false}},"text":{"field":"t"}}},
{"data":{"values":[{"i":1.1,"p":1388.6}]},"mark":{"type":"point","shape":"triangle-down","filled":true,"fill":"black","opacity":1,"size":28}},
{"data":{"values":[{"i":3.6,"p":1388.4,"t":"GOLD,Daily"},{"i":18.1,"p":1388.4,"t":"1323.32 1325.40 1322.06 1322.89"}]},"mark":{"type":"text","align":"left","baseline":"middle","color":"black","font":"Noto Sans","fontSize":9},"encoding":{"text":{"field":"t"}}},
{"data":{"values":[{"i":358.7,"p":1387.5,"t":"GOLD"},{"i":372.6,"p":1387.5,"t":"1322.89"}]},"mark":{"type":"text","align":"left","baseline":"middle","color":"#FF0000","font":"Liberation Sans","fontSize":16},"encoding":{"text":{"field":"t"}}},
{"data":{"values":[{"i":365.5,"p":1378,"t":"-0.44 | -0.03%"}]},"mark":{"type":"text","align":"left","baseline":"middle","color":"#FF0000","font":"Liberation Sans","fontSize":13.5},"encoding":{"text":{"field":"t"}}},
{"data":{"values":[{"i":358.3,"p":1378.5}]},"mark":{"type":"point","shape":"triangle-down","filled":true,"fill":"#FF0000","opacity":1,"size":110}},
{"data":{"values":[{"i":311.25,"p":1229.9,"t":"@50Pips | www.50PipsFX.com"}]},"mark":{"type":"text","align":"left","baseline":"middle","color":"#8B0000","font":"Liberation Sans","fontSize":20},"encoding":{"text":{"field":"t"}}}
]}
